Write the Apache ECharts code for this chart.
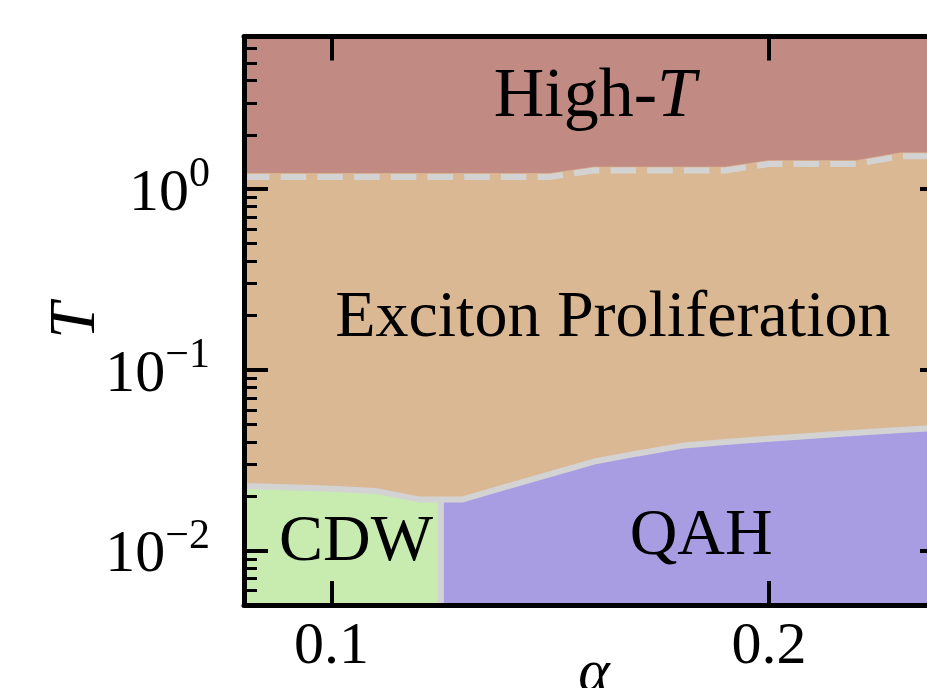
<!DOCTYPE html>
<html><head><meta charset="utf-8">
<script src="https://cdn.jsdelivr.net/npm/echarts@6/dist/echarts.min.js"></script>
<style>html,body{margin:0;padding:0;background:#fff}#c{width:927px;height:688px}</style>
</head><body><div id="c"></div>
<script>
// ---- data ----
const alpha = [0.08,0.09,0.10,0.11,0.12,0.13,0.14,0.15,0.16,0.17,0.18,0.19,0.20,0.21,0.22,0.23,0.24];
const highTBoundary = [1.17,1.17,1.17,1.17,1.17,1.17,1.17,1.17,1.27,1.27,1.27,1.27,1.38,1.38,1.38,1.52,1.52];
const lowBoundary = [0.0228,0.0224,0.0220,0.0214,0.0192,0.0192,0.0226,0.0265,0.0311,0.0345,0.0380,0.0399,0.0416,0.0432,0.0449,0.0465,0.0480];
const cdwQahSplitAlpha = 0.125;
const cdwQahSplitT = 0.0192;
const xTicks = [0.1, 0.2];
const xTickLabels = ['0.1', '0.2'];
const yMajorTicks = [0.01, 0.1, 1];
const yTickExponents = ['\u22122', '\u22121', '0'];
const yMinorTicks = [0.006,0.007,0.008,0.009,0.02,0.03,0.04,0.05,0.06,0.07,0.08,0.09,0.2,0.3,0.4,0.5,0.6,0.7,0.8,0.9,2,3,4,5,6];
const regionNames = ['High-T', 'Exciton Proliferation', 'CDW', 'QAH'];
const regionLabelAlpha = [0.1602, 0.1643, 0.1056, 0.1845];
const regionLabelT = [3.21, 0.1916, 0.0110, 0.0120];

// ---- ranges & styles ----
const A_MIN = 0.08, A_MAX = 0.24, T_MIN = 0.005, T_MAX = 7;
const FONT = 'Liberation Serif';
const C_HIGH = '#c18a83', C_EXC = '#dab893', C_CDW = '#c8ebaf', C_QAH = '#a89de2', C_LINE = '#d3d3d3';
const DASH_OVERLAP = 1.046;

const upperPts = alpha.map((a, i) => [a, highTBoundary[i]]);
const lowerPts = alpha.map((a, i) => [a, lowBoundary[i]]);

const highPoly = upperPts.concat([[A_MAX, T_MAX], [A_MIN, T_MAX]]);
const excPoly = lowerPts.concat(upperPts.map(p => [p[0], p[1] * DASH_OVERLAP]).reverse());
const cdwPoly = [[A_MIN, T_MIN]].concat(lowerPts.filter(p => p[0] < cdwQahSplitAlpha), [[cdwQahSplitAlpha, cdwQahSplitT], [cdwQahSplitAlpha, T_MIN]]);
const qahPoly = [[cdwQahSplitAlpha, T_MIN], [cdwQahSplitAlpha, cdwQahSplitT]].concat(lowerPts.filter(p => p[0] > cdwQahSplitAlpha), [[A_MAX, T_MIN]]);

function region(color, verts) {
  return {
    type: 'custom', coordinateSystem: 'cartesian2d', silent: true,
    data: [verts[0]],
    renderItem: (params, api) => ({
      type: 'polygon',
      shape: { points: verts.map(p => api.coord(p)) },
      style: { fill: color, stroke: color, lineWidth: 0.5 }
    })
  };
}
function boundary(pts, dash) {
  return {
    type: 'line', data: pts, symbol: 'none', silent: true,
    lineStyle: { color: C_LINE, width: 6, type: dash || 'solid' }
  };
}

const axLine = { show: true, onZero: false, lineStyle: { color: '#000', width: 5 } };
const xAx = (pos, labels) => ({
  type: 'value', min: A_MIN, max: A_MAX, position: pos, z: 10,
  axisLine: axLine,
  axisTick: { show: true, inside: true, length: 24, lineStyle: { color: '#000', width: 4 }, customValues: xTicks },
  axisLabel: labels ? {
    show: true, customValues: xTicks, margin: 12, fontSize: 60, fontFamily: FONT, color: '#000',
    formatter: v => xTickLabels[xTicks.findIndex(t => Math.abs(t - v) < 1e-9)]
  } : { show: false },
  splitLine: { show: false }, minorTick: { show: false },
  name: labels ? '\u03b1' : '', nameLocation: 'middle', nameGap: 39, nameMoveOverlap: false,
  nameTextStyle: { fontSize: 60, fontStyle: 'italic', fontFamily: FONT, color: '#000' }
});
const yAx = (pos, major, labels) => ({
  type: 'log', min: T_MIN, max: T_MAX, position: pos, offset: 0, z: major ? 10 : 11,
  axisLine: major ? axLine : { show: false },
  axisTick: { show: true, inside: true, length: major ? 24 : 13, lineStyle: { color: '#000', width: major ? 4 : 3 }, customValues: major ? yMajorTicks : yMinorTicks },
  axisLabel: labels ? {
    show: true, customValues: yMajorTicks, margin: 34,
    formatter: v => '{m|10}{s|' + yTickExponents[yMajorTicks.findIndex(t => Math.abs(Math.log10(t) - Math.log10(v)) < 1e-6)] + '}',
    rich: {
      m: { fontSize: 60, lineHeight: 70, verticalAlign: 'bottom', fontFamily: FONT, color: '#000' },
      s: { fontSize: 42, lineHeight: 42, verticalAlign: 'top', fontFamily: FONT, color: '#000' }
    }
  } : { show: false },
  splitLine: { show: false }, minorTick: { show: false },
  name: labels ? 'T' : '', nameLocation: 'middle', nameGap: 135, nameMoveOverlap: false,
  nameTextStyle: { fontSize: 65, fontStyle: 'italic', fontFamily: FONT, color: '#000' }
});

const option = {
  animation: false,
  backgroundColor: '#fff',
  grid: { left: 244, top: 36.5, width: 700, height: 568.5, outerBoundsMode: 'none', containLabel: false },
  xAxis: [xAx('bottom', true), xAx('top', false)],
  yAxis: [yAx('left', true, true), yAx('left', false, false), yAx('right', true, false), yAx('right', false, false)],
  series: [
    region(C_HIGH, highPoly),
    region(C_EXC, excPoly),
    region(C_CDW, cdwPoly),
    region(C_QAH, qahPoly),
    boundary(upperPts, [25.5, 11.2]),
    boundary(lowerPts),
    boundary([[cdwQahSplitAlpha, T_MIN], [cdwQahSplitAlpha, cdwQahSplitT]]),
    {
      type: 'scatter', symbolSize: 1, silent: true,
      itemStyle: { color: 'rgba(0,0,0,0)' },
      data: regionNames.map((n, i) => ({ value: [regionLabelAlpha[i], regionLabelT[i]], name: n })),
      label: {
        show: true, position: 'inside', color: '#000', opacity: 1,
        textBorderWidth: 0, textBorderColor: 'transparent', textShadowBlur: 0,
        formatter: p => {
          const n = p.name;
          if (n.endsWith('-T')) return '{h|' + n.slice(0, -1) + '}{i|T}';
          return '{r|' + n + '}';
        },
        rich: {
          r: { fontSize: 66, fontFamily: FONT, color: '#000', textBorderWidth: 0 },
          h: { fontSize: 70, fontFamily: FONT, color: '#000', textBorderWidth: 0 },
          i: { fontSize: 70, fontFamily: FONT, fontStyle: 'italic', color: '#000', textBorderWidth: 0 }
        }
      }
    }
  ]
};
const chart = echarts.init(document.getElementById('c'), null, { renderer: 'canvas' });
chart.setOption(option);
</script></body></html>
